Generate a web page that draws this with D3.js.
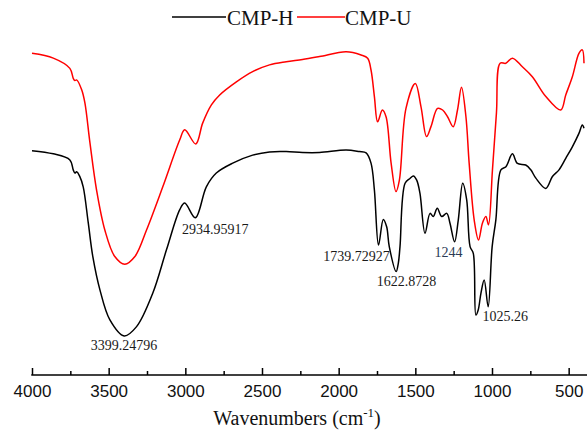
<!DOCTYPE html>
<html>
  <head>
    <meta charset="UTF-8">
    <script src="https://d3js.org/d3.v7.min.js"></script>
    <title>FTIR CMP-H / CMP-U</title>
    <style>
      body { margin: 0; background: #fff; }
      .tick text { font-family: "Liberation Sans", Arial, sans-serif; font-size: 17px; fill: #111; }
      .serif { font-family: "Liberation Serif", "Times New Roman", serif; }
    </style>
  </head>
  <body>
    <svg class="chart"></svg>
    <script type="text/javascript">

     var width = 587,
         height = 430;

     // wavenumber (cm-1) and relative transmittance
     var hWave = [4000, 3861, 3753, 3731, 3720, 3709, 3688, 3666, 3633, 3603, 3557, 3492, 3399, 3318, 3212, 3123,
                  3037, 3004, 2935, 2863, 2798, 2691, 2561, 2451, 2342, 2236, 2125, 1951, 1865, 1821, 1789, 1767,
                  1740, 1709, 1687, 1670, 1625, 1611, 1600, 1567, 1535, 1513, 1491, 1470, 1437, 1404, 1383, 1357,
                  1328, 1295, 1274, 1244, 1220, 1191, 1165, 1143, 1122, 1105, 1090, 1072, 1051, 1025, 999, 975,
                  942, 909, 867, 834, 780, 747, 714, 649, 606, 563, 519, 476, 433, 411, 400];
     var hVal  = [62.3, 61.3, 59.4, 56.3, 55.3, 55.7, 54.2, 51.0, 39.7, 29.1, 18.8, 9.4, 4.4, 7.3, 17.8, 31.3,
                  43.8, 45.9, 41.3, 51.0, 55.3, 58.4, 60.9, 61.9, 62.0, 61.7, 61.7, 62.5, 62.0, 61.6, 58.4, 50.0,
                  32.8, 40.8, 38.5, 32.3, 24.5, 27.1, 32.3, 52.1, 53.6, 54.4, 53.1, 49.0, 36.5, 42.7, 41.7, 44.3,
                  41.7, 42.7, 39.6, 33.8, 40.6, 52.1, 46.9, 32.3, 30.2, 10.9, 12.5, 17.8, 21.9, 13.5, 32.3, 40.6,
                  56.3, 57.3, 61.3, 58.3, 57.8, 56.3, 53.7, 50.5, 54.2, 56.3, 59.9, 63.5, 67.7, 70.3, 69.3];

     var uWave = [4000, 3861, 3753, 3731, 3720, 3709, 3676, 3655, 3622, 3579, 3525, 3460, 3395, 3329, 3253, 3147,
                  3037, 3004, 2932, 2887, 2830, 2776, 2667, 2561, 2451, 2342, 2236, 2125, 1951, 1854, 1811, 1789,
                  1767, 1746, 1715, 1691, 1658, 1626, 1604, 1561, 1500, 1463, 1427, 1398, 1355, 1322, 1290, 1253,
                  1225, 1199, 1170, 1149, 1116, 1088, 1062, 1040, 1023, 997, 971, 947, 910, 867, 802, 737,
                  649, 552, 519, 476, 433, 411, 400];
     var uVal  = [92.7, 91.2, 88.0, 84.9, 84.2, 84.4, 81.3, 77.2, 64.7, 50.0, 37.5, 29.2, 26.8, 29.2, 37.5, 51.0,
                  65.6, 68.8, 64.4, 70.9, 76.6, 79.7, 83.8, 87.0, 89.1, 90.1, 90.8, 91.7, 93.2, 92.2, 91.2, 87.5,
                  79.2, 71.3, 75.0, 72.9, 58.4, 49.5, 53.1, 75.5, 83.3, 76.0, 66.7, 69.8, 75.5, 75.0, 72.9, 69.8,
                  75.0, 82.1, 72.9, 58.4, 40.6, 34.4, 39.7, 41.7, 39.1, 56.3, 74.1, 89.6, 89.6, 91.2, 88.5, 85.4,
                  79.2, 75.0, 79.7, 85.4, 92.7, 93.8, 89.6];

     var seriesNames = ["CMP-H", "CMP-U"];
     var seriesColors = ["#000000", "#ff0000"];

     var tickMajor = [4000, 3500, 3000, 2500, 2000, 1500, 1000, 500];
     var tickMinor = [3750, 3250, 2750, 2250, 1750, 1250, 750];

     var peakWave = [3399.24796, 2934.95917, 1739.72927, 1622.8728, 1244, 1025.26];
     var peakText = ["3399.24796", "2934.95917", "1739.72927", "1622.8728", "1244", "1025.26"];
     var peakVal  = [4.4, 41.3, 32.8, 24.5, 33.8, 13.5];

     // label offsets from the marked minimum (layout only)
     var labelDx = [0, 20, -22, 10, -6, 17];
     var labelDy = [14, 16, 16, 14, 15, 14];

     var x = d3.scaleLinear().domain([4000, 400]).range([32, 584]);
     var y = d3.scaleLinear().domain([0, 100]).range([350, 30]);

     var chart = d3.select(".chart")
                   .attr("width", width)
                   .attr("height", height);

     var series = [
         {name: seriesNames[0], color: seriesColors[0], pts: hWave.map(function(w, i) { return [w, hVal[i]]; })},
         {name: seriesNames[1], color: seriesColors[1], pts: uWave.map(function(w, i) { return [w, uVal[i]]; })}
     ];

     var line = d3.line()
                  .x(function(d) { return x(d[0]); })
                  .y(function(d) { return y(d[1]); })
                  .curve(d3.curveCatmullRom.alpha(0.5));

     chart.append("g")
          .selectAll("path")
          .data(series)
          .enter().append("path")
          .attr("fill", "none")
          .attr("stroke", function(d) { return d.color; })
          .attr("stroke-width", 1.5)
          .attr("stroke-linejoin", "round")
          .attr("d", function(d) { return line(d.pts); });

     // x axis, ticks pointing up
     var axisY = 375;
     var gx = chart.append("g")
                   .attr("transform", "translate(0," + axisY + ")")
                   .call(d3.axisBottom(x)
                           .tickValues(tickMajor)
                           .tickSize(-7)
                           .tickSizeOuter(0)
                           .tickPadding(10)
                           .tickFormat(d3.format("d")));
     gx.select(".domain").remove();
     gx.selectAll(".tick line").attr("stroke", "#000").attr("stroke-width", 1.5);

     var gm = chart.append("g")
                   .attr("transform", "translate(0," + axisY + ")")
                   .call(d3.axisBottom(x)
                           .tickValues(tickMinor)
                           .tickSize(-4)
                           .tickSizeOuter(0)
                           .tickFormat(""));
     gm.select(".domain").remove();
     gm.selectAll(".tick line").attr("stroke", "#000").attr("stroke-width", 1.5);

     chart.append("line")
          .attr("x1", x(4000) - 0.75).attr("x2", width)
          .attr("y1", axisY).attr("y2", axisY)
          .attr("stroke", "#000").attr("stroke-width", 1.5);

     var title = chart.append("text")
                      .attr("class", "serif")
                      .attr("x", 297).attr("y", 425)
                      .attr("text-anchor", "middle")
                      .attr("font-size", 20)
                      .attr("fill", "#111");
     title.append("tspan").text("Wavenumbers (cm");
     title.append("tspan").attr("font-size", 13).attr("dy", -8).text("-1");
     title.append("tspan").attr("dy", 8).text(")");

     // peak labels
     chart.append("g")
          .selectAll("text")
          .data(peakWave)
          .enter().append("text")
          .attr("class", "serif")
          .attr("x", function(d, i) { return x(d) + labelDx[i]; })
          .attr("y", function(d, i) { return y(peakVal[i]) + labelDy[i]; })
          .attr("text-anchor", "middle")
          .attr("font-size", 14)
          .attr("fill", function(d, i) { return peakText[i] === "1244" ? "#2b3a55" : "#1a1a1a"; })
          .text(function(d, i) { return peakText[i]; });

     // legend
     var legend = chart.append("g").attr("class", "legend");
     var legX = [172, 297];
     legX.forEach(function(lx, i) {
         legend.append("line")
               .attr("x1", lx).attr("x2", lx + (i === 0 ? 54 : 48))
               .attr("y1", 17).attr("y2", 17)
               .attr("stroke", seriesColors[i]).attr("stroke-width", 1.3);
         legend.append("text")
               .attr("class", "serif")
               .attr("x", lx + (i === 0 ? 55 : 48)).attr("y", 25)
               .attr("font-size", 21)
               .attr("fill", "#111")
               .text(seriesNames[i]);
     });

    </script>
  </body>
</html>
